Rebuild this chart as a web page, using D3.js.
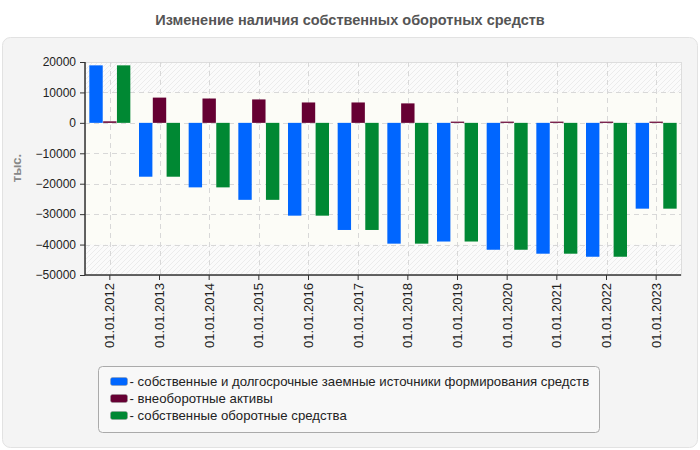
<!DOCTYPE html>
<html lang="ru">
<head>
<meta charset="UTF-8">
<title>Изменение наличия собственных оборотных средств</title>
<script src="https://d3js.org/d3.v7.min.js"></script>
<style>
  body { margin: 0; background: #fff; }
  text { font-family: "Liberation Sans", Arial, sans-serif; }
</style>
</head>
<body>
<script>
// data
var dates = ["01.01.2012","01.01.2013","01.01.2014","01.01.2015","01.01.2016","01.01.2017",
             "01.01.2018","01.01.2019","01.01.2020","01.01.2021","01.01.2022","01.01.2023"];
var ownLongTerm = [18900,-17700,-21200,-25300,-30500,-35200,-39700,-39000,-41700,-43000,-44000,-28200];
var nonCurrent  = [500,8300,8000,7700,6700,6700,6400,400,400,400,400,400];
var workingCap  = [18900,-17700,-21200,-25300,-30500,-35200,-39700,-39000,-41700,-43000,-44000,-28200];
var seriesNames = ["собственные и долгосрочные заемные источники формирования средств",
                   "внеоборотные активы",
                   "собственные оборотные средства"];
var colors = ["#0066ff","#660033","#008833"];
var yTicks = [20000,10000,0,-10000,-20000,-30000,-40000,-50000];

var w = 700, h = 450;
var pLeft = 85, pRight = 681, pTop = 62, pBottom = 275;

var svg = d3.select("body").append("svg")
    .attr("width", w).attr("height", h);

var defs = svg.append("defs");
var pat = defs.append("pattern")
    .attr("id", "hatch")
    .attr("patternUnits", "userSpaceOnUse")
    .attr("width", 5).attr("height", 5);
pat.append("rect").attr("width", 5).attr("height", 5).attr("fill", "#fbfbfb");
pat.append("path").attr("d", "M0,5 L5,0 M-1,1 L1,-1 M4,6 L6,4")
    .attr("stroke", "#ececec").attr("stroke-width", 1);

// title
svg.append("text")
    .attr("x", 350).attr("y", 25)
    .attr("text-anchor", "middle")
    .style("font-size", "14.5px").style("font-weight", "bold")
    .attr("fill", "#555")
    .text("Изменение наличия собственных оборотных средств");

// panel
svg.append("rect")
    .attr("x", 2.5).attr("y", 37.5).attr("width", 695).attr("height", 410)
    .attr("rx", 8)
    .attr("fill", "#f4f4f4").attr("stroke", "#e2e2e2");

var x = d3.scaleBand().domain(dates).range([pLeft, pRight]);
var y = d3.scaleLinear().domain([-50000, 20000]).range([pBottom, pTop]);
var sub = d3.scaleBand().domain([0,1,2]).range([0, 41]).paddingInner(0.03);

// plot background
svg.append("rect")
    .attr("x", pLeft).attr("y", pTop)
    .attr("width", pRight - pLeft).attr("height", pBottom - pTop)
    .attr("fill", "url(#hatch)");
svg.append("rect")
    .attr("x", pLeft).attr("y", y(10000))
    .attr("width", pRight - pLeft).attr("height", y(-40000) - y(10000))
    .attr("fill", "#fcfcf7");
svg.append("rect")
    .attr("x", pLeft + 0.5).attr("y", pTop + 0.5)
    .attr("width", pRight - pLeft).attr("height", pBottom - pTop)
    .attr("fill", "none").attr("stroke", "#dddddd");

// grid
svg.append("g").selectAll("line.h")
    .data(yTicks.slice(1, -1)).enter().append("line")
    .attr("x1", pLeft).attr("x2", pRight)
    .attr("y1", function(d){ return Math.round(y(d)) + 0.5; })
    .attr("y2", function(d){ return Math.round(y(d)) + 0.5; })
    .attr("stroke", "#d8d8d8").attr("stroke-dasharray", "5,4");
svg.append("g").selectAll("line.v")
    .data(dates).enter().append("line")
    .attr("x1", function(d){ return Math.round(x(d) + x.bandwidth()/2) + 0.5; })
    .attr("x2", function(d){ return Math.round(x(d) + x.bandwidth()/2) + 0.5; })
    .attr("y1", pTop).attr("y2", pBottom)
    .attr("stroke", "#d8d8d8").attr("stroke-dasharray", "5,4");

// bars
var all = [ownLongTerm, nonCurrent, workingCap];
var groups = svg.append("g").selectAll("g")
    .data(dates).enter().append("g")
    .attr("transform", function(d){ return "translate(" + (x(d) + (x.bandwidth() - 41)/2) + ",0)"; });
groups.selectAll("rect")
    .data(function(d, i){ return all.map(function(s, k){ return {k: k, v: s[i]}; }); })
    .enter().append("rect")
    .attr("x", function(d){ return sub(d.k); })
    .attr("width", sub.bandwidth())
    .attr("y", function(d){ return y(Math.max(0, d.v)); })
    .attr("height", function(d){ return Math.abs(y(d.v) - y(0)); })
    .attr("fill", function(d){ return colors[d.k]; });

// axes
var yAxis = svg.append("g")
    .attr("transform", "translate(" + pLeft + ",0)")
    .call(d3.axisLeft(y).tickValues(yTicks).tickSize(5).tickPadding(4).tickFormat(d3.format("d")));
var xAxis = svg.append("g")
    .attr("transform", "translate(0," + pBottom + ")")
    .call(d3.axisBottom(x).tickSize(5).tickPadding(6));
[yAxis, xAxis].forEach(function(a){
  a.select(".domain").attr("stroke", "#333").attr("stroke-width", 1.5);
  a.selectAll(".tick line").attr("stroke", "#333");
  a.selectAll("text").style("font-size", "12px").attr("fill", "#222")
    .style("font-family", "'Liberation Sans', Arial, sans-serif");
});
yAxis.select(".domain").attr("d", "M0," + pTop + "V" + pBottom);
xAxis.select(".domain").attr("d", "M" + pLeft + ",0H" + pRight);
xAxis.selectAll("text")
    .style("font-size", "13px")
    .attr("transform", "rotate(-90)")
    .attr("text-anchor", "end")
    .attr("x", -8).attr("y", 0).attr("dy", "0.35em");

svg.append("text")
    .attr("transform", "translate(21,168) rotate(-90)")
    .attr("text-anchor", "middle")
    .style("font-size", "13px").style("font-weight", "bold")
    .attr("fill", "#888")
    .text("тыс.");

// legend
var lg = svg.append("g").attr("transform", "translate(98.5,366.5)");
lg.append("rect")
    .attr("width", 501).attr("height", 66).attr("rx", 4)
    .attr("fill", "#f8f8f8").attr("stroke", "#aaaaaa");
var items = lg.selectAll("g.item")
    .data(seriesNames).enter().append("g")
    .attr("transform", function(d, i){ return "translate(12," + (11 + i * 17) + ")"; });
items.append("rect")
    .attr("width", 17).attr("height", 8).attr("rx", 2)
    .attr("fill", function(d, i){ return colors[i]; })
    .attr("stroke", "#999").attr("stroke-width", 0.5);
items.append("text")
    .attr("x", 19).attr("y", 4).attr("dy", "0.35em")
    .style("font-size", "13.2px").attr("fill", "#222")
    .text(function(d){ return "- " + d; });
</script>
</body>
</html>
